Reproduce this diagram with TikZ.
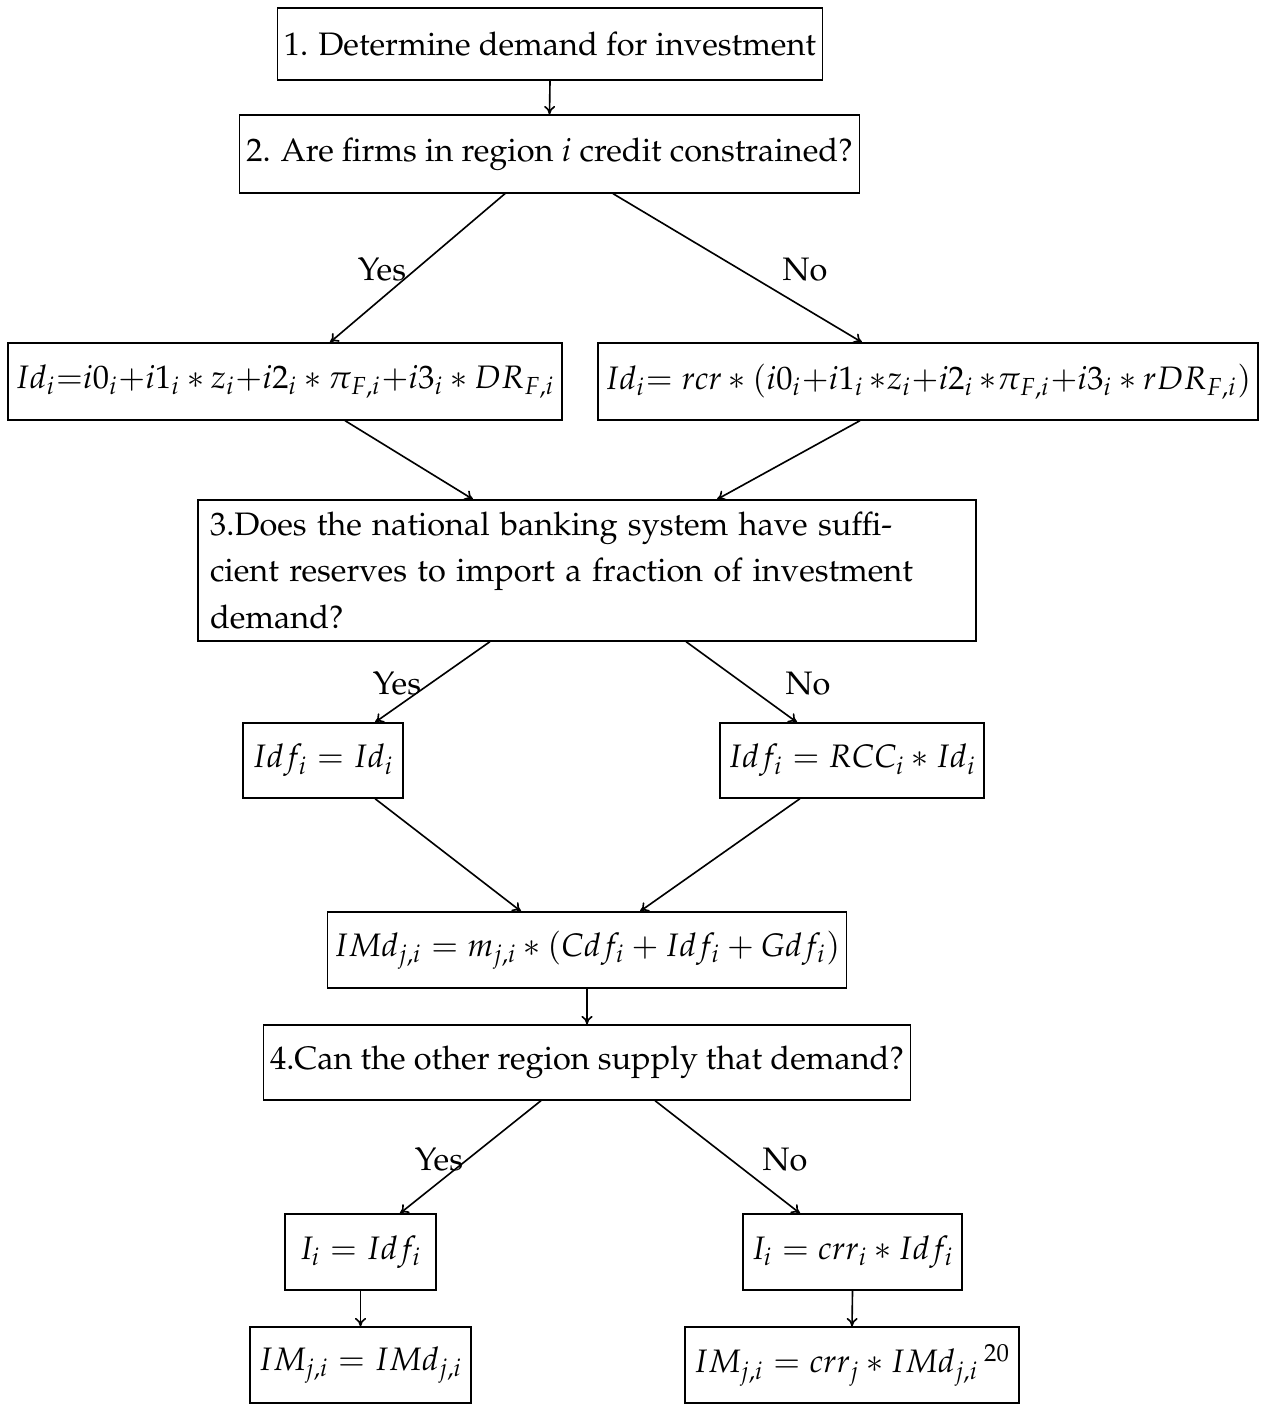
\documentclass[tikz,border=0pt]{standalone}
\usepackage[T1]{fontenc}
\usepackage{mathpazo}
\usetikzlibrary{calc,arrows.meta}
\begin{document}
\begin{tikzpicture}[x=0.3077pt,y=-0.3077pt,
  box/.style 2 args={draw, line width=0.4pt, inner sep=2pt, align=center,
    minimum width=#1*0.3077pt, minimum height=#2*0.3077pt,
    font=\fontsize{10}{12}\selectfont},
  arr/.style={-{To[length=2.6pt,width=3.4pt]}, line width=0.5pt},
  lab/.style={inner sep=0pt, font=\fontsize{10}{12}\selectfont}]
\useasboundingbox (0,0) rectangle (1265,1405);

\node[box={544}{72}] (b1) at (550,44) {1. Determine demand for investment};
\node[box={617}{78}] (b2) at (549.5,154) {2. Are firms in region $i$ credit constrained?};
\node[box={554}{77}] (eqL) at (285,381.5)
  {$Id_i{=}i0_i{+}i1_i*z_i{+}i2_i*\pi_{F,i}{+}i3_i*DR_{F,i}$};
\node[box={660}{77}] (eqR) at (928,381.5)
  {$Id_i{=}\;rcr*(i0_i{+}i1_i\,{*}z_i{+}i2_i\,{*}\pi_{F,i}{+}i3_i*rDR_{F,i})$};
\node[box={778}{141}, align=left, inner xsep=3.6pt, text width=232pt, font=\fontsize{10}{14.4}\selectfont] (b3) at (587,570.5)
  {\spaceskip=2.5pt plus 3pt minus 2pt
   \makebox[209.9pt][s]{3.Does the national banking system have suffi-}\\
   \makebox[216.3pt][s]{cient reserves to import a fraction of investment}\\
   demand?};
\node[box={160}{75}] (idfL) at (323,760.5) {$Idf_i = Id_i$};
\node[box={264}{75}] (idfR) at (852,760.5) {$Idf_i = RCC_i*Id_i$};
\node[box={518}{76}] (imd) at (587,950) {$IMd_{j,i} = m_{j,i}*(Cdf_i+Idf_i+Gdf_i)$};
\node[box={644}{75}] (b4) at (587,1062.5) {4.Can the other region supply that demand?};
\node[box={151}{76}] (iL) at (360.5,1252) {$I_i = Idf_i$};
\node[box={219}{76}] (iR) at (852.5,1252) {$I_i = crr_i*Idf_i$};
\node[box={221}{76}] (imL) at (360.5,1365) {$IM_{j,i} = IMd_{j,i}$};
\node[box={334}{76}] (imR) at (852,1365) {$IM_{j,i} = crr_j*IMd_{j,i}$\,\textsuperscript{20}};

\draw[arr] (b1.south) -- (b2.north);
\draw[arr] ($(b2.south)+(-44.5,0)$) -- ($(eqL.north)+(45,0)$);
\draw[arr] ($(b2.south)+(63.5,0)$) -- ($(eqR.north)+(-66,0)$);
\draw[arr] ($(eqL.south)+(60,0)$) -- ($(b3.north)+(-114,0)$);
\draw[arr] ($(eqR.south)+(-68,0)$) -- ($(b3.north)+(130,0)$);
\draw[arr] ($(b3.south)+(-97,0)$) -- ($(idfL.north)+(52,0)$);
\draw[arr] ($(b3.south)+(99,0)$) -- ($(idfR.north)+(-55,0)$);
\draw[arr] ($(idfL.south)+(52,0)$) -- ($(imd.north)+(-66,0)$);
\draw[arr] ($(idfR.south)+(-52,0)$) -- ($(imd.north)+(53,0)$);
\draw[arr] (imd.south) -- (b4.north);
\draw[arr] ($(b4.south)+(-46,0)$) -- ($(iL.north)+(39.5,0)$);
\draw[arr] ($(b4.south)+(68,0)$) -- ($(iR.north)+(-52.5,0)$);
\draw[arr] (iL.south) -- (imL.north);
\draw[arr] (iR.south) -- (imR.north);

\node[lab] (y1) at (382,270) {Yes};
\node[lab] (n1) at (805,270) {No};
\node[lab] (y2) at (397,684) {Yes};
\node[lab] (n2) at (808,684) {No};
\node[lab] (y3) at (439,1160) {Yes};
\node[lab] (n3) at (785,1160) {No};
\end{tikzpicture}
\end{document}
